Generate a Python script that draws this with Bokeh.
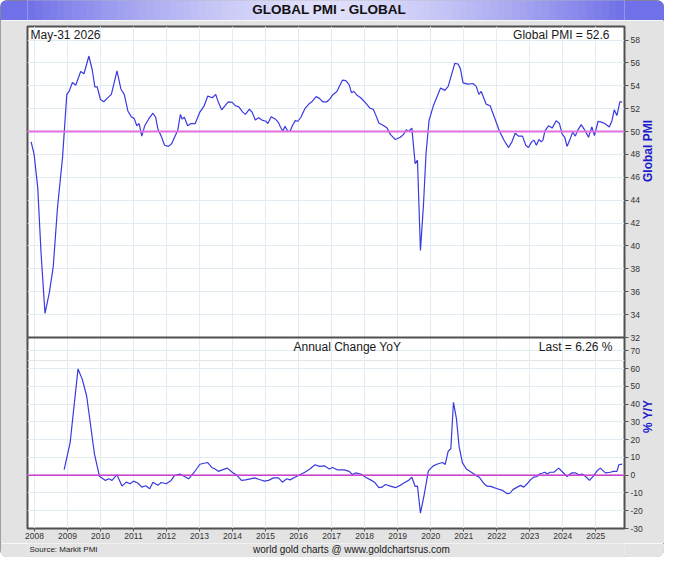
import math
from bokeh.plotting import figure
from bokeh.models import Range1d, LinearAxis, FixedTicker, Grid, Span, Label
from bokeh.layouts import column
from bokeh.embed import file_html
from bokeh.resources import INLINE

# ---------------- data ----------------
pmi_t = [2007.90, 2007.99, 2008.10, 2008.20, 2008.32, 2008.45, 2008.57, 2008.70, 2008.85, 2008.98,
         2009.05, 2009.15, 2009.25, 2009.40, 2009.50, 2009.65, 2009.75, 2009.83, 2009.90, 2010.00,
         2010.10, 2010.20, 2010.33, 2010.50, 2010.62, 2010.72, 2010.83, 2010.93, 2011.02, 2011.10,
         2011.17, 2011.25, 2011.34, 2011.46, 2011.59, 2011.67, 2011.74, 2011.84, 2011.94, 2012.06,
         2012.16, 2012.26, 2012.34, 2012.42, 2012.47, 2012.54, 2012.64, 2012.74, 2012.87, 2013.01,
         2013.14, 2013.25, 2013.39, 2013.49, 2013.57, 2013.67, 2013.77, 2013.87, 2013.99, 2014.09,
         2014.19, 2014.31, 2014.39, 2014.51, 2014.59, 2014.69, 2014.79, 2014.89, 2015.01, 2015.07,
         2015.17, 2015.29, 2015.39, 2015.45, 2015.52, 2015.59, 2015.67, 2015.74, 2015.81, 2015.90,
         2015.98, 2016.07, 2016.19, 2016.31, 2016.40, 2016.53, 2016.63, 2016.73, 2016.86, 2016.96,
         2017.03, 2017.16, 2017.33, 2017.43, 2017.53, 2017.60, 2017.68, 2017.76, 2017.88, 2018.03,
         2018.16, 2018.26, 2018.33, 2018.43, 2018.58, 2018.68, 2018.78, 2018.93, 2019.08, 2019.18,
         2019.26, 2019.33, 2019.43, 2019.53, 2019.60, 2019.69, 2019.78, 2019.86, 2019.95, 2020.08,
         2020.18, 2020.30, 2020.43, 2020.53, 2020.63, 2020.73, 2020.83, 2020.90, 2020.98, 2021.13,
         2021.28, 2021.38, 2021.46, 2021.53, 2021.68, 2021.80, 2021.93, 2022.08, 2022.23, 2022.36,
         2022.46, 2022.56, 2022.66, 2022.78, 2022.88, 2022.96, 2023.06, 2023.13, 2023.20, 2023.28,
         2023.35, 2023.40, 2023.46, 2023.57, 2023.68, 2023.80, 2023.90, 2023.98, 2024.06, 2024.13,
         2024.23, 2024.30, 2024.38, 2024.46, 2024.56, 2024.66, 2024.78, 2024.88, 2024.96, 2025.07,
         2025.19, 2025.27, 2025.41, 2025.49, 2025.56, 2025.64, 2025.73, 2025.80]
pmi_v = [49.1, 48.0, 45.1, 39.4, 34.1, 35.9, 38.2, 43.4, 47.7, 53.25,
         53.5, 54.3, 54.05, 55.25, 55.05, 56.6, 55.4, 53.9, 53.9, 52.8,
         52.6, 52.9, 53.25, 55.3, 53.7, 53.25, 51.8, 51.3, 51.15, 50.5,
         50.7, 49.6, 50.5, 51.1, 51.6, 51.25, 50.2, 49.6, 48.8, 48.7,
         48.95, 49.6, 50.1, 51.5, 51.1, 51.25, 50.5, 50.7, 50.7, 51.7,
         52.25, 53.1, 52.95, 53.25, 52.55, 51.9, 52.25, 52.6, 52.55, 52.25,
         52.15, 51.7, 51.5, 51.95, 51.7, 51.0, 51.2, 51.0, 50.9, 50.7,
         51.3, 51.1, 50.8, 50.4, 50.05, 50.45, 50.05, 50.0, 50.5, 50.95,
         50.9, 51.25, 52.0, 52.4, 52.6, 53.05, 52.9, 52.6, 52.6, 52.9,
         53.2, 53.5, 54.5, 54.45, 54.1, 53.4, 53.5, 53.2, 52.95, 52.5,
         52.05, 51.95, 51.5, 50.75, 50.5, 50.3, 49.75, 49.3, 49.5, 49.75,
         50.15, 50.0, 50.3, 47.2, 47.5, 39.6, 43.5, 48.1, 50.95, 52.25,
         52.95, 53.8, 53.6, 53.95, 54.95, 55.95, 55.9, 55.5, 54.25, 54.15,
         54.2, 53.95, 53.25, 53.5, 52.4, 52.25, 51.25, 50.05, 49.2, 48.6,
         49.1, 49.85, 49.6, 49.6, 48.8, 48.6, 49.1, 49.25, 48.8, 49.3,
         49.1, 49.25, 50.05, 50.5, 50.3, 50.95, 50.7, 49.8, 49.5, 48.7,
         49.4, 49.95, 49.6, 50.15, 50.6, 50.15, 49.5, 50.4, 49.65, 50.9,
         50.8, 50.7, 50.4, 50.95, 51.9, 51.4, 52.6, 52.6]

yoy_t = [2008.90, 2009.08, 2009.32, 2009.45, 2009.58, 2009.70, 2009.82, 2009.97, 2010.15, 2010.25,
         2010.35, 2010.50, 2010.65, 2010.78, 2010.90, 2011.00, 2011.14, 2011.25, 2011.37, 2011.49,
         2011.59, 2011.74, 2011.84, 2011.99, 2012.14, 2012.24, 2012.41, 2012.54, 2012.67, 2012.84,
         2013.01, 2013.24, 2013.37, 2013.47, 2013.57, 2013.69, 2013.84, 2013.99, 2014.14, 2014.27,
         2014.39, 2014.54, 2014.67, 2014.81, 2014.97, 2015.09, 2015.24, 2015.39, 2015.51, 2015.64,
         2015.74, 2015.89, 2016.04, 2016.19, 2016.34, 2016.50, 2016.63, 2016.78, 2016.93, 2017.03,
         2017.18, 2017.38, 2017.53, 2017.63, 2017.73, 2017.88, 2018.03, 2018.18, 2018.30, 2018.43,
         2018.53, 2018.63, 2018.78, 2018.93, 2019.08, 2019.23, 2019.33, 2019.43, 2019.53, 2019.60,
         2019.69, 2019.80, 2019.93, 2020.08, 2020.23, 2020.36, 2020.44, 2020.53, 2020.61, 2020.69,
         2020.78, 2020.86, 2020.96, 2021.08, 2021.23, 2021.38, 2021.47, 2021.62, 2021.72, 2021.82,
         2021.92, 2022.02, 2022.17, 2022.32, 2022.41, 2022.49, 2022.62, 2022.72, 2022.82, 2022.92,
         2023.02, 2023.12, 2023.23, 2023.29, 2023.37, 2023.46, 2023.53, 2023.62, 2023.73, 2023.88,
         2024.00, 2024.13, 2024.27, 2024.39, 2024.49, 2024.59, 2024.69, 2024.81, 2024.94, 2025.04,
         2025.14, 2025.29, 2025.44, 2025.53, 2025.64, 2025.70, 2025.80]
yoy_v = [3.1, 18.2, 59.9, 54.0, 44.8, 28.3, 11.7, -0.6, -2.9, -2.0,
         -2.9, 0.3, -6.1, -3.9, -4.8, -3.3, -4.5, -6.7, -5.9, -7.6,
         -3.9, -5.7, -4.1, -4.8, -2.9, -0.2, 0.7, -0.7, -2.0, 1.7,
         6.2, 7.2, 4.4, 3.5, 2.2, 3.0, 4.0, 1.7, -0.2, -2.9,
         -2.6, -2.0, -1.5, -2.4, -3.3, -2.9, -1.5, -1.5, -3.9, -2.0,
         -2.6, -1.1, 0.3, 1.7, 3.5, 5.9, 5.0, 5.3, 3.5, 4.4,
         3.0, 3.0, 2.2, 0.4, 1.3, 0.7, -1.1, -2.6, -3.9, -7.0,
         -6.7, -5.2, -6.1, -7.0, -5.7, -3.9, -2.9, -1.1, -6.3, -6.1,
         -21.4, -11.3, 2.5, 5.3, 6.5, 7.2, 6.1, 13.5, 14.9, 41.1,
         31.9, 16.3, 7.1, 3.5, 1.7, -0.2, -1.1, -4.8, -6.3, -6.3,
         -7.0, -7.6, -8.5, -10.4, -10.0, -8.1, -6.7, -5.7, -6.7, -4.8,
         -2.6, -1.1, -0.7, 0.7, 1.1, 1.7, 0.7, 1.7, 1.7, 4.0,
         1.7, -0.7, 1.3, 1.3, 0.3, 0.7, -0.7, -2.9, -0.2, 2.5,
         4.0, 1.3, 1.7, 2.2, 2.2, 5.9, 6.3]

years = list(range(2008, 2026))
pmi_ticks = list(range(32, 59, 2))
yoy_ticks = list(range(-30, 71, 10))

TITLE = "GLOBAL PMI - GLOBAL"
DATE_TEXT = "May-31  2026"
LAST_PMI = "Global PMI = 52.6"
YOY_TITLE = "Annual Change YoY"
LAST_YOY = "Last = 6.26 %"
PMI_LABEL = "Global PMI"
YOY_LABEL = "% Y/Y"
SOURCE = "Source: Markit PMI"
SITE = "world gold charts @ www.goldchartsrus.com"

# ---------------- style / layout ----------------
W = 664
BG = "#e3e3e3"
FRAME = "#505050"
GRID = "#e1ecf3"
LINE = "#3a3ae0"
SANS = "'Liberation Sans', Arial, sans-serif"
X0, X1 = 2007.79, 2025.87
PMI_LO, PMI_HI = 32, 59.18
YOY_LO, YOY_HI = -30, 77.6
TOP_PX, BOT_PX = 311, 191          # heights of the two stacked panels inside one frame
HDR_H, MAIN_H, FTR_H = 20, 523, 14

# the PMI scale is extended downward, the YoY scale upward, so each panel gets its own part
y_start = PMI_LO - (PMI_HI - PMI_LO) * BOT_PX / TOP_PX
yoy_end = YOY_HI + (YOY_HI - YOY_LO) * TOP_PX / BOT_PX


def yoy_pos(v):
    return y_start + (v - YOY_LO) / (YOY_HI - YOY_LO) * (PMI_LO - y_start)


def strip(height, x_range, border):
    f = figure(width=W, height=height, x_range=x_range, y_range=Range1d(0, height),
               toolbar_location=None, output_backend="svg",
               x_axis_location=None, y_axis_location=None,
               min_border_left=0, min_border_right=0, min_border_top=0, min_border_bottom=0)
    f.outline_line_color = None
    f.background_fill_color = BG
    f.border_fill_color = border
    return f


# ---------------- header (its frame is aligned with the chart frame) ----------------
EDGE = (112, 112, 232)
MID = (224, 224, 251)
hdr = strip(HDR_H, Range1d(0, 1), "#%02x%02x%02x" % EDGE)
n = 80
lefts, rights, cols = [], [], []
for i in range(n):
    f = abs((i + 0.5) / n - 0.5) * 2
    f = f ** 1.5
    c = tuple(int(MID[k] + (EDGE[k] - MID[k]) * f) for k in range(3))
    lefts.append(i / n)
    rights.append((i + 1) / n)
    cols.append("#%02x%02x%02x" % c)
hdr.quad(left=lefts, right=rights, bottom=1, top=HDR_H, fill_color=cols, line_color=cols)
hdr.add_layout(Label(x=0.5, y=HDR_H / 2 + 1, x_offset=3, text=TITLE, text_align="center",
                     text_baseline="middle", text_font=SANS, text_font_size="13.5px",
                     text_font_style="bold", text_color="#111111"))

# ---------------- main chart: both panels in one frame ----------------
p = figure(width=W, height=MAIN_H, x_range=Range1d(X0, X1), y_range=Range1d(y_start, PMI_HI),
           toolbar_location=None, output_backend="svg",
           x_axis_location=None, y_axis_location=None,
           min_border_left=27, min_border_right=33, min_border_top=6, min_border_bottom=15)
p.extra_y_ranges = {"yoy": Range1d(YOY_LO, yoy_end)}
p.background_fill_color = "white"
p.border_fill_color = BG
p.outline_line_color = FRAME
p.outline_line_width = 2

tick_pos = [float(v) for v in pmi_ticks] + [yoy_pos(v) for v in yoy_ticks]
overrides = {float(v): str(v) for v in pmi_ticks}
overrides.update({yoy_pos(v): str(v) for v in yoy_ticks})

ax = LinearAxis(ticker=FixedTicker(ticks=tick_pos), major_label_overrides=overrides,
                major_label_text_font=SANS, major_label_text_font_size="8.5px",
                major_label_text_color="#333333", major_label_standoff=2,
                axis_label_standoff=0,
                major_tick_out=4, major_tick_in=0, minor_tick_out=0, minor_tick_in=0,
                major_tick_line_color="#555555", axis_line_color=None)
p.add_layout(ax, "right")

# outer right axis carrying the two panel titles
mid_pmi = (PMI_LO + PMI_HI) / 2
mid_yoy = yoy_pos((YOY_LO + YOY_HI) / 2)
ax_t = LinearAxis(ticker=FixedTicker(ticks=[mid_pmi, mid_yoy]),
                  major_label_overrides={mid_pmi: PMI_LABEL, mid_yoy: YOY_LABEL},
                  major_label_orientation=math.pi / 2,
                  major_label_text_font=SANS, major_label_text_font_size="12px",
                  major_label_text_font_style="bold", major_label_text_color="#1c1ccc",
                  major_label_standoff=2, axis_label_standoff=0,
                  major_tick_out=0, major_tick_in=0,
                  minor_tick_out=0, minor_tick_in=0, axis_line_color=None)
p.add_layout(ax_t, "right")

xa = LinearAxis(ticker=FixedTicker(ticks=years),
                major_label_text_font=SANS, major_label_text_font_size="8.5px",
                major_label_text_color="#333333", major_label_standoff=1,
                axis_label_standoff=0,
                major_tick_out=3, major_tick_in=0, minor_tick_out=0, minor_tick_in=0,
                major_tick_line_color="#555555", axis_line_color=None)
p.add_layout(xa, "below")
p.add_layout(Grid(dimension=0, ticker=FixedTicker(ticks=years), grid_line_color=GRID))
p.add_layout(Grid(dimension=1, ticker=FixedTicker(ticks=tick_pos), grid_line_color=GRID))

p.add_layout(Span(location=50, dimension="width", line_color="#e070e0", line_width=2))
p.add_layout(Span(location=0, dimension="width", y_range_name="yoy",
                  line_color="#d040d0", line_width=1.3))
p.add_layout(Span(location=PMI_LO, dimension="width", line_color=FRAME, line_width=2))

p.line(pmi_t, pmi_v, line_color=LINE, line_width=1.2)
p.line(yoy_t, yoy_v, line_color=LINE, line_width=1.2, y_range_name="yoy")


def corner_text(x, y, text, align, dx, dy, rng="default"):
    p.add_layout(Label(x=x, y=y, text=text, text_align=align, text_baseline="top",
                       x_offset=dx, y_offset=dy, y_range_name=rng, text_font=SANS,
                       text_font_size="12px", text_color="#1a1a1a"))


corner_text(X0, PMI_HI, DATE_TEXT, "left", 3, -1)
corner_text(X1, PMI_HI, LAST_PMI, "right", -15, -1)
corner_text(X0, YOY_HI, YOY_TITLE, "left", 266, -2, "yoy")
corner_text(X1, YOY_HI, LAST_YOY, "right", -12, -2, "yoy")

# ---------------- footer (frame aligned with the chart frame) ----------------
ftr = strip(FTR_H, Range1d(X0, X1), BG)
ftr.add_layout(Label(x=X0, x_offset=2, y=FTR_H / 2 + 1, text=SOURCE, text_align="left",
                     text_baseline="middle", text_font=SANS, text_font_size="8px",
                     text_color="#222222"))
ftr.add_layout(Label(x=X0, x_offset=324, y=FTR_H / 2 + 1, text=SITE, text_align="center",
                     text_baseline="middle", text_font=SANS, text_font_size="10px",
                     text_color="#1a1a1a"))

root = column(hdr, p, ftr, spacing=0,
              styles={"border-radius": "7px", "overflow": "hidden",
                      "outline": "1px solid #8a8a8a", "outline-offset": "-1px"})

open("out.html", "w").write(file_html(root, INLINE))
